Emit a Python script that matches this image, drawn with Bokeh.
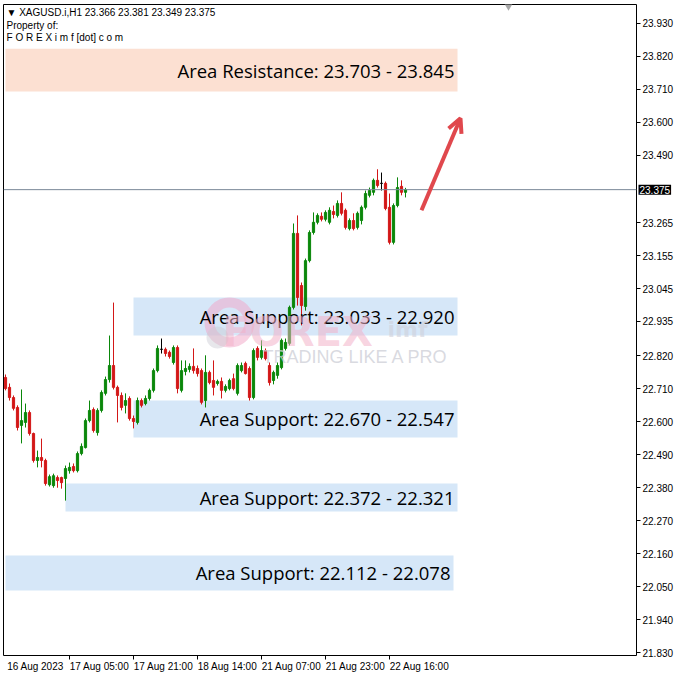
from bokeh.plotting import figure
from bokeh.models import (FixedTicker, NumeralTickFormatter, Label, Arrow, OpenHead,
                          ColumnDataSource, Range1d, Span)
from bokeh.embed import file_html
from bokeh.resources import INLINE
from bokeh.core.properties import value

# ---------------- data (XAGUSD H1) ----------------
open_ = [22.748, 22.715, 22.681, 22.648, 22.588, 22.598, 22.631, 22.561, 22.471, 22.481,
         22.471, 22.390, 22.387, 22.414, 22.414, 22.411, 22.437, 22.451, 22.437, 22.494,
         22.514, 22.604, 22.641, 22.564, 22.638, 22.695, 22.741, 22.788, 22.715, 22.688,
         22.655, 22.678, 22.611, 22.598, 22.671, 22.661, 22.678, 22.705, 22.771, 22.842,
         22.842, 22.832, 22.798, 22.848, 22.705, 22.768, 22.775, 22.785, 22.778, 22.771,
         22.671, 22.765, 22.738, 22.728, 22.735, 22.705, 22.711, 22.744, 22.695, 22.771,
         22.795, 22.778, 22.681, 22.845, 22.815, 22.838, 22.788, 22.738, 22.755, 22.781,
         22.845, 22.862, 22.982, 23.229, 23.055, 22.985, 23.138, 23.232, 23.266, 23.286,
         23.276, 23.266, 23.302, 23.289, 23.329, 23.306, 23.245, 23.272, 23.249, 23.272,
         23.316, 23.356, 23.366, 23.406, 23.396, 23.396, 23.316, 23.199, 23.322, 23.386,
         23.366]
high = [22.758, 22.728, 22.688, 22.655, 22.708, 22.661, 22.638, 22.564, 22.504, 22.544,
        22.477, 22.424, 22.427, 22.421, 22.417, 22.454, 22.464, 22.461, 22.501, 22.528,
        22.611, 22.671, 22.648, 22.645, 22.705, 22.751, 22.888, 22.998, 22.721, 22.698,
        22.695, 22.685, 22.621, 22.681, 22.678, 22.688, 22.711, 22.778, 22.855, 22.878,
        22.848, 22.838, 22.855, 22.855, 22.805, 22.805, 22.795, 22.845, 22.788, 22.778,
        22.822, 22.771, 22.805, 22.741, 22.748, 22.725, 22.744, 22.761, 22.795, 22.798,
        22.801, 22.785, 22.845, 22.852, 22.872, 22.845, 22.798, 22.771, 22.798, 22.878,
        22.878, 22.988, 23.262, 23.289, 23.065, 23.145, 23.239, 23.299, 23.296, 23.299,
        23.306, 23.316, 23.322, 23.339, 23.366, 23.312, 23.279, 23.296, 23.302, 23.322,
        23.372, 23.382, 23.412, 23.443, 23.432, 23.402, 23.362, 23.329, 23.416, 23.406,
        23.381]
low = [22.705, 22.671, 22.638, 22.571, 22.528, 22.581, 22.554, 22.464, 22.448, 22.448,
       22.387, 22.384, 22.380, 22.380, 22.377, 22.337, 22.427, 22.431, 22.431, 22.488,
       22.511, 22.598, 22.564, 22.554, 22.631, 22.688, 22.731, 22.708, 22.598, 22.638,
       22.628, 22.604, 22.578, 22.591, 22.648, 22.655, 22.671, 22.698, 22.765, 22.828,
       22.818, 22.811, 22.791, 22.695, 22.698, 22.755, 22.765, 22.761, 22.751, 22.658,
       22.648, 22.725, 22.688, 22.721, 22.678, 22.698, 22.705, 22.705, 22.688, 22.765,
       22.758, 22.671, 22.675, 22.805, 22.808, 22.805, 22.721, 22.725, 22.744, 22.775,
       22.838, 22.855, 22.975, 22.988, 22.922, 22.971, 23.132, 23.225, 23.259, 23.269,
       23.269, 23.259, 23.279, 23.282, 23.289, 23.242, 23.239, 23.239, 23.242, 23.259,
       23.309, 23.349, 23.356, 23.382, 23.372, 23.306, 23.192, 23.192, 23.316, 23.356,
       23.349]
close = [22.711, 22.681, 22.645, 22.581, 22.604, 22.631, 22.561, 22.471, 22.481, 22.471,
         22.394, 22.417, 22.420, 22.404, 22.397, 22.444, 22.448, 22.437, 22.494, 22.518,
         22.604, 22.638, 22.571, 22.638, 22.698, 22.741, 22.788, 22.715, 22.688, 22.648,
         22.671, 22.611, 22.601, 22.671, 22.655, 22.678, 22.705, 22.771, 22.845, 22.842,
         22.828, 22.818, 22.848, 22.711, 22.771, 22.778, 22.785, 22.771, 22.761, 22.665,
         22.765, 22.731, 22.715, 22.735, 22.705, 22.718, 22.738, 22.711, 22.788, 22.788,
         22.761, 22.681, 22.838, 22.815, 22.838, 22.811, 22.731, 22.765, 22.788, 22.872,
         22.865, 22.982, 23.229, 23.015, 22.988, 23.138, 23.232, 23.266, 23.289, 23.276,
         23.299, 23.306, 23.292, 23.329, 23.296, 23.249, 23.272, 23.245, 23.296, 23.316,
         23.362, 23.372, 23.406, 23.389, 23.396, 23.312, 23.199, 23.322, 23.382, 23.366,
         23.375]

# time axis: bar index of each labelled hour
tick_bars = [0, 16, 32, 48, 64, 80, 96]
tick_labels = ["16 Aug 2023", "17 Aug 05:00", "17 Aug 21:00", "18 Aug 14:00",
               "21 Aug 07:00", "21 Aug 23:00", "22 Aug 16:00"]

price_ticks = [23.930, 23.820, 23.710, 23.600, 23.490, 23.265, 23.155, 23.045, 22.935,
               22.820, 22.710, 22.600, 22.490, 22.380, 22.270, 22.160, 22.050, 21.940, 21.830]
last_price = 23.375

# zones (bar index from/to, price top/bottom) and their captions
zone_from = [0, 32, 32, 15, 0]
zone_to = [113, 113, 113, 113, 112]
zone_top = [23.845, 23.015, 22.671, 22.394, 22.154]
zone_bottom = [23.703, 22.888, 22.548, 22.301, 22.037]
zone_text = ["Area Resistance: 23.703 - 23.845", "Area Support: 23.033 - 22.920",
             "Area Support: 22.670 - 22.547", "Area Support: 22.372 - 22.321",
             "Area Support: 22.112 - 22.078"]
zone_kind = ["res", "sup", "sup", "sup", "sup"]

arrow_x = [104.0, 113.75]
arrow_y = [23.306, 23.613]

header = "\u25BC XAGUSD.i,H1  23.366 23.381 23.349 23.375"

# ---------------- figure ----------------
FW, FH = 633, 651
X0, X1 = -0.5, 157.75
Y0, Y1 = 21.820, 23.993

p = figure(frame_width=FW, frame_height=FH, x_range=Range1d(X0, X1), y_range=Range1d(Y0, Y1),
           y_axis_location="right", toolbar_location=None, output_backend="svg",
           min_border=0, min_border_left=3, min_border_top=4, min_border_right=0,
           min_border_bottom=0)
p.background_fill_color = "white"
p.border_fill_color = "white"
p.outline_line_color = "black"
p.outline_line_width = 1
p.grid.visible = False

GREEN = "#0a870a"
RED = "#d31717"

# zones
zsrc = ColumnDataSource(dict(
    left=zone_from, right=zone_to, top=zone_top, bottom=zone_bottom,
    mid=[(a + b) / 2 for a, b in zip(zone_top, zone_bottom)], text=zone_text,
    color=["#fce0d2" if k == "res" else "#d6e7f8" for k in zone_kind]))
p.quad(left="left", right="right", top="top", bottom="bottom", source=zsrc,
       fill_color="color", line_color=None)

# watermark (decorative logo), positions in frame pixels
def sx2d(sx):
    return X0 + sx / FW * (X1 - X0)

def sy2d(sy):
    return Y0 + sy / FH * (Y1 - Y0)

p.scatter(x=[sx2d(226)], y=[sy2d(333)], marker="circle", size=40, fill_color=None,
          line_color="#f2a3c6", line_width=10, line_alpha=0.5)
p.scatter(x=[sx2d(214)], y=[sy2d(318)], marker="circle", size=22, fill_color="#c9c9d2",
          fill_alpha=0.45, line_color=None)
for txt, x, y, size, colr, alpha, font in [
        ("FOREX", 219, 324, "40px", "#f3b1c8", 0.55, "DejaVu Sans"),
        ("imf", 384, 326, "22px", "#cfd0da", 0.6, "DejaVu Sans"),
        ("TRADING LIKE A PRO", 259, 299, "18px", "#cdced6", 0.75, "Liberation Sans")]:
    p.add_layout(Label(x=x, y=y, x_units="screen", y_units="screen", text=txt,
                       text_font=font, text_font_size=size,
                       text_color=colr, text_alpha=alpha, text_baseline="middle",
                       text_font_style="bold" if txt != "TRADING LIKE A PRO" else "normal"))

# candles
idx = list(range(len(open_)))
col = [GREEN if c > o else (RED if c < o else "black") for o, c in zip(open_, close)]
csrc = ColumnDataSource(dict(x=idx, o=open_, h=high, l=low, c=close, color=col,
                             top=[max(o, c) for o, c in zip(open_, close)],
                             bottom=[min(o, c) for o, c in zip(open_, close)]))
p.segment(x0="x", y0="h", x1="x", y1="l", source=csrc, line_color="color", line_width=1)
p.vbar(x="x", width=0.55, top="top", bottom="bottom", source=csrc,
       fill_color="color", line_color="color", line_width=1)

# zone captions
p.text(x="right", y="mid", text="text", source=zsrc, x_offset=-3,
       text_align="right", text_baseline="middle", text_color="black",
       text_font=value("Open Sans"), text_font_size="18.5px")

# last price line
p.add_layout(Span(location=last_price, dimension="width", line_color="#7a8898", line_width=1))

# arrow
p.add_layout(Arrow(x_start=arrow_x[0], y_start=arrow_y[0], x_end=arrow_x[1], y_end=arrow_y[1],
                   line_color="#e0484d", line_width=4,
                   end=OpenHead(size=14, line_color="#e0484d", line_width=4)))

# chart-shift marker at top
p.scatter(x=[sx2d(505)], y=[Y1], marker="inverted_triangle", size=11,
          fill_color="#a8a8a8", line_color=None)

# header texts
for i, txt in enumerate([header, "Property of:", "F O R E X i m f [dot] c o m"]):
    p.add_layout(Label(x=3, y=FH - 8 - 12.5 * i, x_units="screen", y_units="screen",
                       text=txt, text_font="Liberation Sans", text_font_size="10px",
                       text_color="black", text_baseline="middle"))

# x axis: minor ticks on the hours, labels to the right of the ticks
lab_pos = [t + 7.5 for t in tick_bars]
p.xaxis.ticker = FixedTicker(ticks=lab_pos, minor_ticks=tick_bars[1:])
p.xaxis.major_label_overrides = {pos: lab for pos, lab in zip(lab_pos, tick_labels)}
p.xaxis.major_tick_line_color = None
p.xaxis.major_tick_out = 0
p.xaxis.major_tick_in = 0
p.xaxis.minor_tick_line_color = "black"
p.xaxis.minor_tick_out = 4
p.xaxis.minor_tick_in = 0
p.xaxis.axis_line_color = None
p.xaxis.major_label_standoff = 1
p.xaxis.major_label_text_font = "Liberation Sans"
p.xaxis.major_label_text_font_size = "10px"
p.xaxis.major_label_text_color = "black"

# y axis (right)
p.yaxis.ticker = FixedTicker(ticks=price_ticks)
p.yaxis.formatter = NumeralTickFormatter(format="0.000")
p.yaxis.major_tick_out = 4
p.yaxis.major_tick_in = 0
p.yaxis.minor_tick_line_color = None
p.yaxis.axis_line_color = None
p.yaxis.major_tick_line_color = "black"
p.yaxis.major_label_standoff = 2
p.yaxis.major_label_text_font = "Liberation Sans"
p.yaxis.major_label_text_font_size = "10px"
p.yaxis.major_label_text_color = "black"

# last price box on the price scale (side panel, so it is not clipped to the frame)
p.add_layout(Label(x=X1, y=last_price, x_units="data", y_units="data", x_offset=2,
                   text=f"{last_price:.3f}", text_font="Liberation Sans",
                   text_font_size="10px", text_color="white", text_baseline="middle",
                   background_fill_color="black", padding=1), "right")

open("out.html", "w").write(file_html(p, INLINE))
